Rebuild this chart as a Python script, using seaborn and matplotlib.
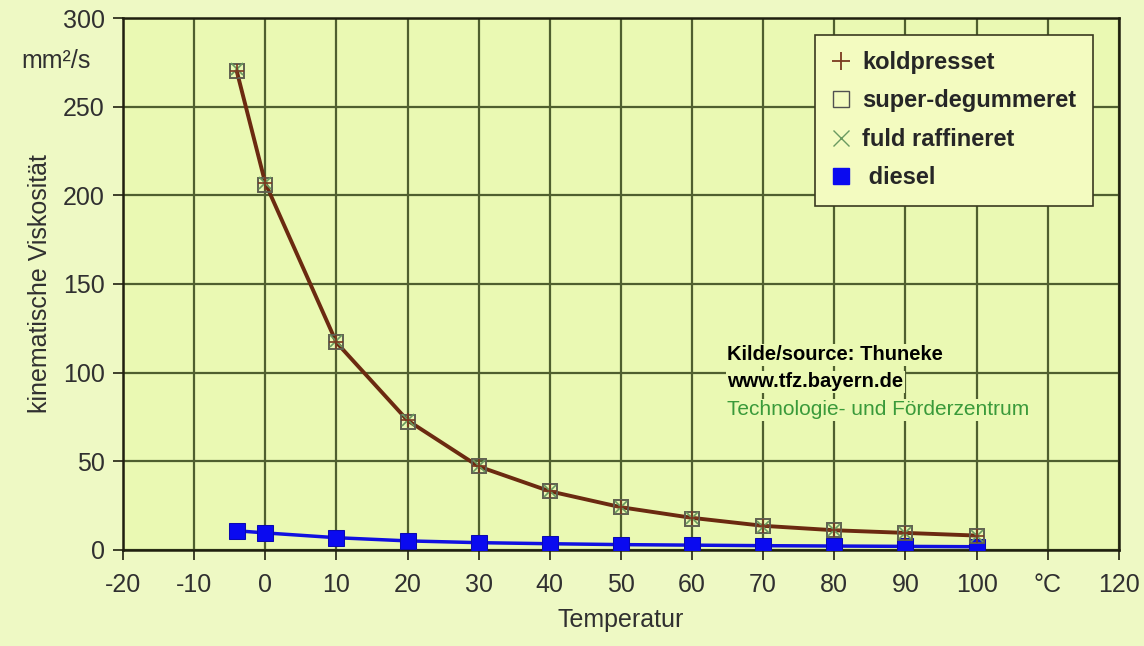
import matplotlib
matplotlib.use("Agg")
import matplotlib.pyplot as plt
from matplotlib.lines import Line2D
import seaborn as sns
import pandas as pd

sns.set_theme(style="white")
plt.rcParams['font.family'] = ['Liberation Sans', 'DejaVu Sans']

# temperatures in °C
temp = [-4, 0, 10, 20, 30, 40, 50, 60, 70, 80, 90, 100]
# kinematic viscosity mm²/s
koldpresset = [270, 207, 117, 73, 47, 33, 24, 18, 13.5, 11, 9.5, 8]
super_degummeret = [270, 206, 117, 72, 47, 33, 24, 17.5, 13.5, 11, 9.5, 8]
fuld_raffineret = [271, 207, 118, 73, 47, 33, 24, 18, 13, 11, 9.5, 8]
diesel = [10.7, 9.5, 6.8, 5.0, 4.0, 3.4, 2.9, 2.6, 2.3, 2.1, 1.9, 1.7]

x_ticks = [-20, -10, 0, 10, 20, 30, 40, 50, 60, 70, 80, 90, 100, 110, 120]
x_ticklabels = ['-20', '-10', '0', '10', '20', '30', '40', '50', '60', '70', '80', '90', '100', '°C', '120']
y_ticks = [0, 50, 100, 150, 200, 250, 300]
legend_labels = ['koldpresset', 'super-degummeret', 'fuld raffineret', ' diesel']

df = pd.DataFrame({'Temperatur': temp, 'koldpresset': koldpresset,
                   'super-degummeret': super_degummeret,
                   'fuld raffineret': fuld_raffineret, 'diesel': diesel})

fig_bg = '#eef9c4'
ax_bg = '#eaf9b3'
grid_c = '#4f5f2f'
txt_c = '#303030'

fig = plt.figure(figsize=(11.44, 6.46), dpi=100, facecolor=fig_bg)
ax = fig.add_axes([0.1075, 0.149, 0.8705, 0.823])
ax.set_facecolor(ax_bg)

# curves
sns.lineplot(data=df, x='Temperatur', y='diesel', ax=ax, color='#1010e0', lw=2.5,
             marker='s', markersize=11.5, markerfacecolor='#0a0af0',
             markeredgecolor='#0a0ab0', label='_nolegend_', zorder=4)
sns.lineplot(data=df, x='Temperatur', y='koldpresset', ax=ax, color='#6b2a10', lw=2.8,
             zorder=3, label='_nolegend_')
ax.plot(temp, super_degummeret, ls='none', marker='s', markersize=10.5,
        markerfacecolor='none', markeredgecolor='#606050', mew=1.4, zorder=5)
ax.plot(temp, fuld_raffineret, ls='none', marker='x', markersize=8,
        color='#6a9a60', mew=1.2, zorder=5)
ax.plot(temp, koldpresset, ls='none', marker='+', markersize=10,
        color='#7a3a20', mew=1.2, zorder=6)

ax.set_xlim(-20, 120)
ax.set_ylim(0, 300)
ax.set_xticks(x_ticks)
ax.set_xticklabels(x_ticklabels)
ax.set_yticks(y_ticks)
ax.tick_params(axis='both', which='both', direction='out', length=7, width=1.2,
               color='#202010', labelsize=18, labelcolor=txt_c,
               bottom=True, left=True)
ax.tick_params(axis='x', pad=10)
ax.tick_params(axis='y', pad=6)
ax.grid(True, color=grid_c, lw=1.6)
for s in ax.spines.values():
    s.set_color('#202010')
    s.set_linewidth(1.8)

ax.set_xlabel('Temperatur', fontsize=18, color=txt_c, labelpad=8)
ax.set_ylabel('kinematische Viskosität', fontsize=18, color=txt_c, labelpad=8)
fig.text(0.019, 0.905, 'mm²/s', fontsize=18, color=txt_c, ha='left', va='center')

# legend (built from marker handles)
handles = [
    Line2D([], [], ls='none', marker='+', markersize=13, color='#7a3a20', mew=1.3),
    Line2D([], [], ls='none', marker='s', markersize=12, markerfacecolor='none',
           markeredgecolor='#505050', mew=1.0),
    Line2D([], [], ls='none', marker='x', markersize=11, color='#6a9a60', mew=1.0),
    Line2D([], [], ls='none', marker='s', markersize=12, color='#0a0af0'),
]
leg = ax.legend(handles, legend_labels,
                loc='upper right', bbox_to_anchor=(0.974, 0.969), frameon=True,
                fancybox=False, handlelength=0.8, handletextpad=0.5,
                borderpad=0.7, labelspacing=0.65, borderaxespad=0,
                prop={'size': 17, 'weight': 'bold'})
leg.get_frame().set_facecolor('#f3fbc0')
leg.get_frame().set_edgecolor('#3a3a20')
leg.get_frame().set_linewidth(1.2)
leg.get_frame().set_alpha(1)

# source note
note_x = 0.607
ax.text(note_x, 0.367, 'Kilde/source: Thuneke', transform=ax.transAxes, fontsize=14.5,
        fontweight='bold', color='black', va='center',
        bbox=dict(facecolor=ax_bg, edgecolor='none', pad=1))
ax.text(note_x, 0.316, 'www.tfz.bayern.de', transform=ax.transAxes, fontsize=14.5,
        fontweight='bold', color='black', va='center',
        bbox=dict(facecolor=ax_bg, edgecolor='none', pad=1))
ax.text(note_x, 0.263, 'Technologie- und Förderzentrum', transform=ax.transAxes,
        fontsize=15, color='#3a9a3a', va='center',
        bbox=dict(facecolor=ax_bg, edgecolor='none', pad=1))

fig.savefig('out.png', dpi=100, facecolor=fig_bg)
